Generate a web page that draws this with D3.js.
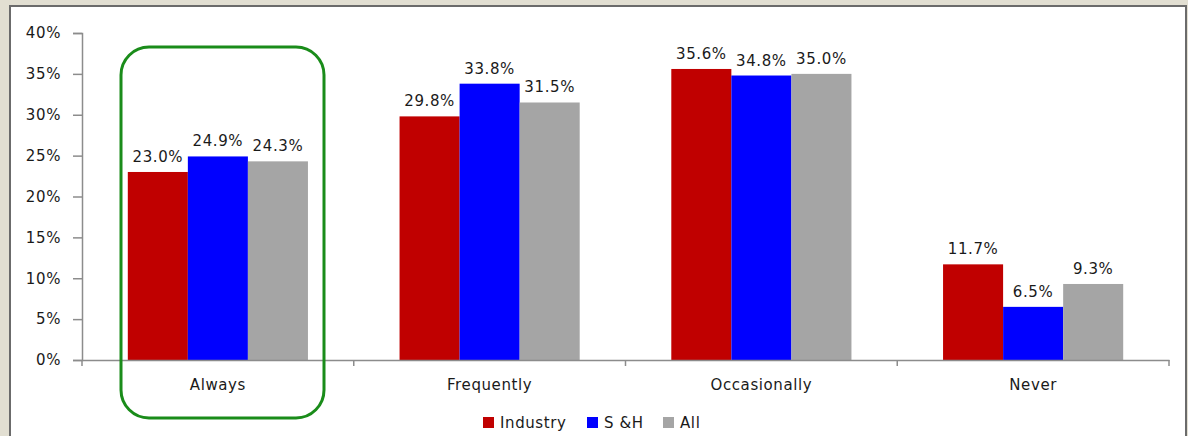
<!DOCTYPE html>
<html>
<head>
<meta charset="utf-8">
<script src="https://cdn.jsdelivr.net/npm/d3@7"></script>
<style>
  body { margin: 0; background: #e2dfd2; }
  svg { display: block; }
  text { font-family: "DejaVu Sans", sans-serif; fill: #1a1a1a; letter-spacing: 0.6px; }
</style>
</head>
<body>
<svg width="1188" height="436"></svg>
<script>
const categories = ["Always", "Frequently", "Occasionally", "Never"];
const seriesNames = ["Industry", "S &H", "All"];
const industry = [23.0, 29.8, 35.6, 11.7];
const sh = [24.9, 33.8, 34.8, 6.5];
const all = [24.3, 31.5, 35.0, 9.3];
const yTicks = [0, 5, 10, 15, 20, 25, 30, 35, 40];
const colors = ["#c00000", "#0000ff", "#a5a5a5"];

const seriesValues = [industry, sh, all];
const rows = categories.map((c, i) => ({
  cat: c,
  vals: seriesNames.map((s, j) => ({ series: s, j, v: seriesValues[j][i] }))
}));

const svg = d3.select("svg");

// white chart area with dark border
svg.append("rect")
  .attr("x", 10).attr("y", 6)
  .attr("width", 1176).attr("height", 440)
  .attr("fill", "#fff")
  .attr("stroke", "#6b6b6b")
  .attr("stroke-width", 2);

const plotLeft = 82, plotRight = 1169, plotTop = 33, plotBottom = 360;

const x0 = d3.scaleBand().domain(categories).range([plotLeft, plotRight]).paddingInner(0).paddingOuter(0);
const x1 = d3.scaleBand().domain(seriesNames).range([45.8, x0.bandwidth() - 45.8]);
const y = d3.scaleLinear().domain([0, 40]).range([plotBottom, plotTop]);

// y axis
const yAxis = svg.append("g")
  .attr("transform", `translate(${plotLeft},0)`)
  .call(d3.axisLeft(y).tickValues(yTicks).tickSize(9).tickPadding(12).tickFormat(d => d + "%"));
yAxis.select(".domain").attr("stroke", "#8c8c8c").attr("stroke-width", 1.5);
yAxis.selectAll(".tick line").attr("stroke", "#8c8c8c").attr("stroke-width", 1.5);
yAxis.selectAll("text").style("font-size", "15px").attr("fill", "#1a1a1a");

// bars
const groups = svg.append("g")
  .selectAll("g")
  .data(rows)
  .join("g")
  .attr("transform", d => `translate(${x0(d.cat)},0)`);

groups.selectAll("rect")
  .data(d => d.vals)
  .join("rect")
  .attr("x", d => x1(d.series))
  .attr("y", d => y(d.v))
  .attr("width", x1.bandwidth())
  .attr("height", d => plotBottom - y(d.v))
  .attr("fill", d => colors[d.j]);

groups.selectAll("text")
  .data(d => d.vals)
  .join("text")
  .attr("x", d => x1(d.series) + x1.bandwidth() / 2)
  .attr("y", d => y(d.v) - 10)
  .attr("text-anchor", "middle")
  .style("font-size", "15px")
  .text(d => d.v.toFixed(1) + "%");

// x axis
const xAxis = svg.append("g")
  .attr("transform", `translate(0,${plotBottom})`)
  .call(d3.axisBottom(x0).tickSize(0).tickPadding(19));
xAxis.select(".domain").attr("stroke", "#8c8c8c").attr("stroke-width", 1.5);
xAxis.selectAll("text").style("font-size", "15px").attr("fill", "#1a1a1a");

// category separators
svg.append("g")
  .selectAll("line")
  .data(categories.map(c => x0(c)).concat([plotRight]))
  .join("line")
  .attr("x1", d => d).attr("x2", d => d)
  .attr("y1", plotBottom).attr("y2", plotBottom + 6)
  .attr("stroke", "#8c8c8c")
  .attr("stroke-width", 1.5);

// green highlight around "Always"
svg.append("rect")
  .attr("x", 121).attr("y", 47)
  .attr("width", 203).attr("height", 371)
  .attr("rx", 28).attr("ry", 28)
  .attr("fill", "none")
  .attr("stroke", "#1a8c1a")
  .attr("stroke-width", 3);

// legend
const legendX = [483, 587, 663];
const legend = svg.append("g")
  .selectAll("g")
  .data(seriesNames)
  .join("g")
  .attr("transform", (d, i) => `translate(${legendX[i]},417)`);

legend.append("rect")
  .attr("width", 11).attr("height", 11)
  .attr("fill", (d, i) => colors[i]);

legend.append("text")
  .attr("x", 17).attr("y", 11)
  .style("font-size", "15px")
  .text(d => d);
</script>
</body>
</html>
